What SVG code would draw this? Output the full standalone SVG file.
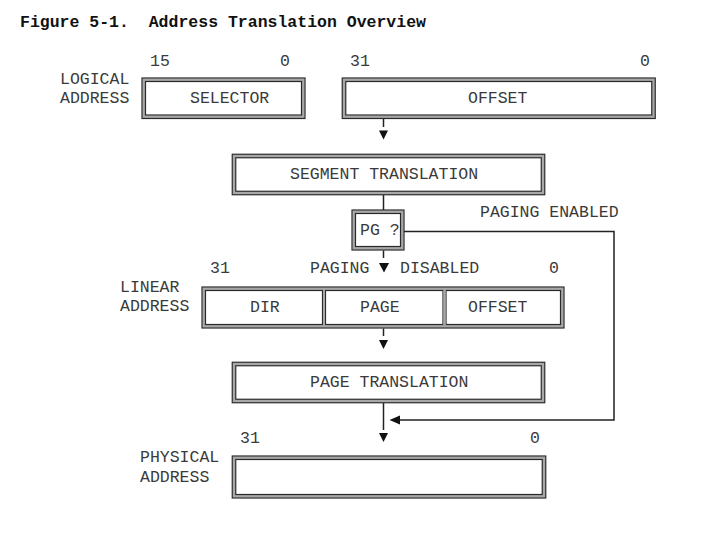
<svg xmlns="http://www.w3.org/2000/svg" width="706" height="537" viewBox="0 0 706 537">
<style>
.t{font-family:"Liberation Mono","Courier New",monospace;font-size:16.5px;fill:#3a3a3a}
.title{font-family:"Liberation Mono","Courier New",monospace;font-size:16.5px;font-weight:bold;fill:#111;white-space:pre}
.band{fill:none;stroke:#a8a8a8;stroke-width:3}
.ln{fill:none;stroke:#2a2a2a;stroke-width:1.2}
.c{fill:none;stroke:#222;stroke-width:1.5}
.ah{fill:#111}
</style>
<rect width="706" height="537" fill="#fff"/>
<text class="title" x="20" y="27" xml:space="preserve">Figure 5-1.  Address Translation Overview</text>

<g id="logical-label">
<text class="t" x="60" y="84">LOGICAL</text>
<text class="t" x="60" y="103">ADDRESS</text>
</g>
<g id="selector">
<rect class="band" x="143.75" y="79.75" width="159.5" height="37"/>
<rect class="ln" x="142" y="78" width="163" height="40.5"/>
<rect class="ln" x="145.5" y="81.5" width="156" height="33.5"/>
<text class="t" x="150" y="66">15</text>
<text class="t" x="280" y="66">0</text>
<text class="t" x="190" y="103">SELECTOR</text>
</g>
<g id="offset">
<rect class="band" x="344" y="79.75" width="309.5" height="37"/>
<rect class="ln" x="342.25" y="78" width="313" height="40.5"/>
<rect class="ln" x="345.75" y="81.5" width="306" height="33.5"/>
<text class="t" x="350" y="66">31</text>
<text class="t" x="640" y="66">0</text>
<text class="t" x="468" y="103">OFFSET</text>
</g>
<g id="segment-translation">
<rect class="band" x="234" y="156" width="309" height="37"/>
<rect class="ln" x="232.25" y="154.25" width="312.5" height="40.5"/>
<rect class="ln" x="235.75" y="157.75" width="305.5" height="33.5"/>
<text class="t" x="290" y="179">SEGMENT TRANSLATION</text>
</g>
<g id="pg">
<rect class="band" x="353.75" y="211.75" width="48.5" height="36.5"/>
<rect class="ln" x="352" y="210" width="52" height="40"/>
<rect class="ln" x="355.5" y="213.5" width="45" height="33"/>
<text class="t" x="360" y="235">PG ?</text>
</g>
<g id="paging-labels">
<text class="t" x="480" y="217">PAGING ENABLED</text>
<text class="t" x="310" y="273">PAGING</text>
<text class="t" x="400" y="273">DISABLED</text>
</g>
<g id="linear-label">
<text class="t" x="120" y="292">LINEAR</text>
<text class="t" x="120" y="311">ADDRESS</text>
</g>
<g id="linear">
<rect class="band" x="203.75" y="288.75" width="358.5" height="37.5"/>
<rect class="ln" x="202" y="287" width="362" height="41"/>
<rect class="ln" x="205.5" y="290.5" width="117" height="34"/>
<rect class="ln" x="325.5" y="290.5" width="117.5" height="34"/>
<rect class="ln" x="446" y="290.5" width="114.5" height="34"/>
<line x1="324" y1="290" x2="324" y2="325" stroke="#a8a8a8" stroke-width="2"/>
<line x1="444.5" y1="290" x2="444.5" y2="325" stroke="#a8a8a8" stroke-width="2"/>
<text class="t" x="210" y="273">31</text>
<text class="t" x="549" y="273">0</text>
<text class="t" x="250" y="312">DIR</text>
<text class="t" x="360" y="312">PAGE</text>
<text class="t" x="468" y="312">OFFSET</text>
</g>
<g id="page-translation">
<rect class="band" x="234" y="364" width="309" height="37"/>
<rect class="ln" x="232.25" y="362.25" width="312.5" height="40.5"/>
<rect class="ln" x="235.75" y="365.75" width="305.5" height="33.5"/>
<text class="t" x="310" y="387">PAGE TRANSLATION</text>
</g>
<g id="physical-label">
<text class="t" x="140" y="462">PHYSICAL</text>
<text class="t" x="140" y="482">ADDRESS</text>
</g>
<g id="physical">
<rect class="band" x="234" y="457.75" width="310" height="38.5"/>
<rect class="ln" x="232.25" y="456" width="313.5" height="42"/>
<rect class="ln" x="235.75" y="459.5" width="306.5" height="35"/>
<text class="t" x="240" y="443">31</text>
<text class="t" x="530" y="443">0</text>
</g>

<g id="connectors">
<line class="c" x1="383.5" y1="119" x2="383.5" y2="127"/>
<polygon class="ah" points="379,130.5 388,130.5 383.5,139.5"/>
<line class="c" x1="383.5" y1="195" x2="383.5" y2="210"/>
<line class="c" x1="383.5" y1="250.5" x2="383.5" y2="258"/>
<polygon class="ah" points="379,263 389,263 384,272.5"/>
<line class="c" x1="383.5" y1="328.5" x2="383.5" y2="336"/>
<polygon class="ah" points="379,340 388,340 383.5,349"/>
<line class="c" x1="383.5" y1="403" x2="383.5" y2="430"/>
<polygon class="ah" points="379,433 388,433 383.5,442"/>
<polyline class="c" points="404,231.5 614,231.5 614,420 399,420"/>
<polygon class="ah" points="389.5,420 400,415.5 400,424.5"/>
</g>
</svg>
